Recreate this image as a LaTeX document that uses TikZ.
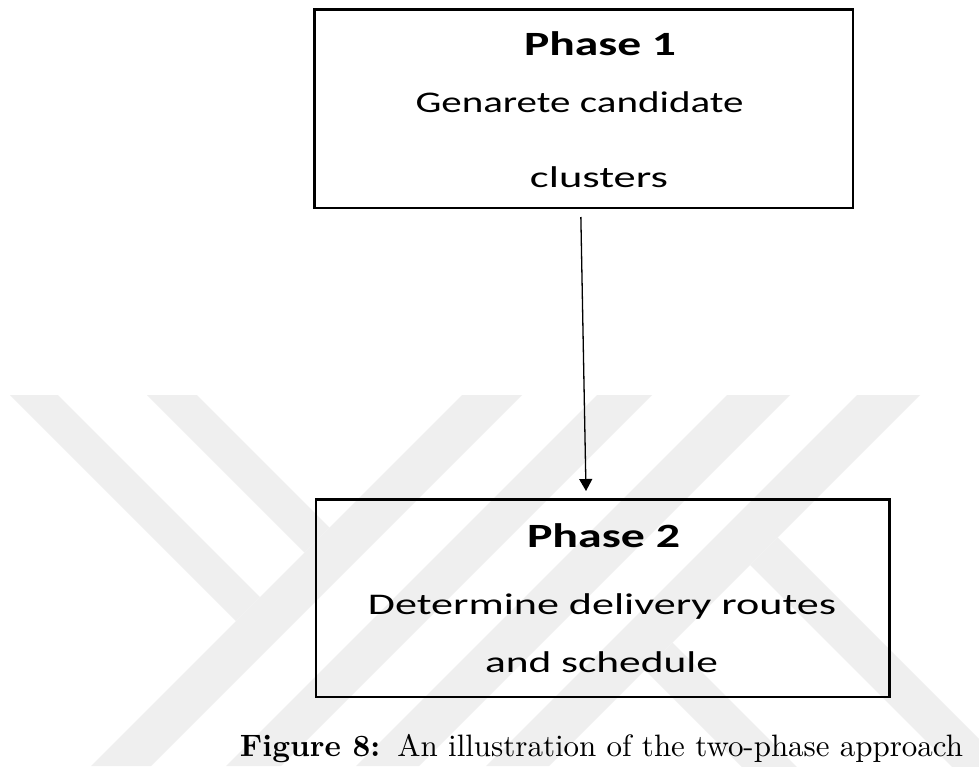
\documentclass[tikz,border=0pt]{standalone}
\usepackage{fontspec}
\usepackage{graphicx}
\newfontfamily\carlito{Carlito}
\usetikzlibrary{arrows.meta}
\definecolor{wm}{RGB}{239,239,239}
\newcommand{\ttl}[2]{\resizebox{#1}{\height}{\carlito\fontsize{34}{34}\selectfont\bfseries #2}}
\newcommand{\txt}[2]{\resizebox{#1}{\height}{\carlito\fontsize{30}{30}\selectfont #2}}
\begin{document}
\begin{tikzpicture}[x=1pt,y=-1pt,
  boxnode/.style={draw=black, line width=2.6pt, rectangle, inner sep=0pt, outer sep=0pt},
  lbl/.style={inner sep=0pt, outer sep=0pt, anchor=base},
  arr/.style={line width=1.3pt, -{Triangle[length=12pt,width=13pt]}},
  wmark/.style={fill=wm, draw=none}]
\useasboundingbox (0,0) rectangle (979,766);
\fill[white] (0,0) rectangle (979,766);
% watermark
\begin{scope}
\clip (0,395) rectangle (979,766);
\fill[wmark] (10,395) -- (58,395) -- (260,597) -- (236,621) -- cycle;
\fill[wmark] (147,395) -- (197,395) -- (329.5,527.5) -- (304.5,552.5) -- cycle;
\fill[wmark] (462,395) -- (522,395) -- (151,766) -- (91,766) -- cycle;
\fill[wmark] (597,395) -- (652,395) -- (281,766) -- (226,766) -- cycle;
\fill[wmark] (727,395) -- (790,395) -- (419,766) -- (356,766) -- cycle;
\fill[wmark] (857,395) -- (920,395) -- (549,766) -- (486,766) -- cycle;
\fill[wmark] (750,565) -- (777.5,537.5) -- (1100,860) -- (1045,860) -- cycle;
\fill[wmark] (645,670) -- (672.5,642.5) -- (890,860) -- (835,860) -- cycle;
\end{scope}
% boxes
\node[boxnode, minimum width=538.3pt, minimum height=198.5pt] (b1) at (583.85,108.75) {};
\node[boxnode, minimum width=573.5pt, minimum height=197.5pt] (b2) at (602.75,598.25) {};
% texts
\node[lbl] (t1) at (600,55) {\ttl{152pt}{Phase 1}};
\node[lbl] (t2) at (579.5,112) {\txt{328pt}{Genarete candidate}};
\node[lbl] (t3) at (599,187) {\txt{138pt}{clusters}};
\node[lbl] (t4) at (603.5,547) {\ttl{153pt}{Phase 2}};
\node[lbl] (t5) at (602,614) {\txt{468pt}{Determine delivery routes}};
\node[lbl] (t6) at (601.5,672) {\txt{233pt}{and schedule}};
% arrow
\draw[arr] ([xshift=-3pt,yshift=-9pt]b1.south) -- ([xshift=-16.75pt,yshift=8.5pt]b2.north);
% caption
\node[lbl] (cap) at (601.5,756) {\resizebox{723pt}{!}{\textbf{Figure 8:}\hskip0.55em An illustration of the two-phase approach}};
\end{tikzpicture}
\end{document}
